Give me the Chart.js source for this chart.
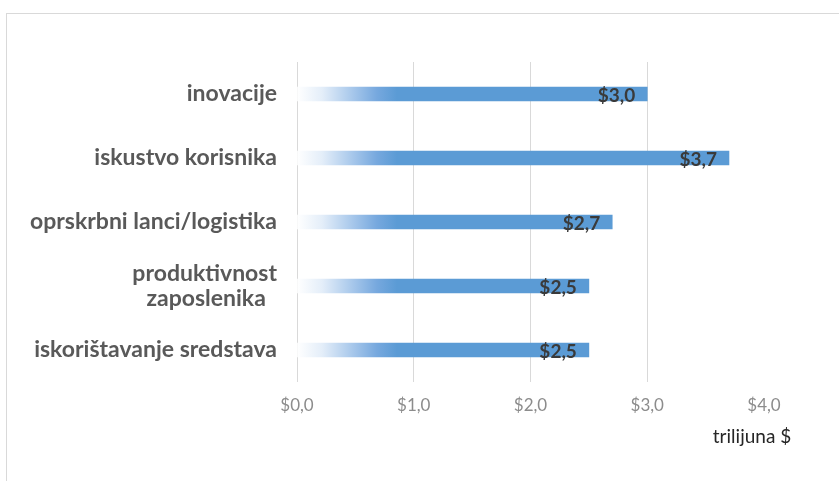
<!doctype html>
<html>

<head>
	<meta charset="utf-8">
	<title>Bar Chart</title>
	<script src="https://cdn.jsdelivr.net/npm/chart.js@4/dist/chart.umd.min.js"></script>
	<style>
		html, body {
			margin: 0;
			padding: 0;
			background: #fff;
		}
		#frame {
			position: absolute;
			left: 6px;
			top: 13px;
			width: 900px;
			height: 500px;
			border-top: 1px solid #d9d9d9;
			border-left: 1px solid #d9d9d9;
		}
		#wrap {
			position: absolute;
			left: 0;
			top: 0;
			width: 839px;
			height: 481px;
		}
	</style>
</head>

<body>
	<div id="frame"></div>
	<div id="wrap">
		<canvas id="canvas"></canvas>
	</div>
	<script>
		var CATEGORIES = [
			'inovacije',
			'iskustvo korisnika',
			'oprskrbni lanci/logistika',
			['produktivnost', 'zaposlenika  '],
			'iskorištavanje sredstava'
		];
		var VALUES = [3.0, 3.7, 2.7, 2.5, 2.5];
		var AXIS_UNIT = 'trilijuna $';

		function money(v) {
			return '$' + v.toFixed(1).replace('.', ',');
		}

		// bar value labels + unit caption under the axis
		var valueLabels = {
			id: 'valueLabels',
			afterDatasetsDraw: function(chart) {
				var ctx = chart.ctx;
				var meta = chart.getDatasetMeta(0);
				ctx.save();
				ctx.font = 'bold 19px Lato';
				ctx.fillStyle = '#3a3a3a';
				ctx.textAlign = 'right';
				ctx.textBaseline = 'middle';
				meta.data.forEach(function(bar, i) {
					ctx.fillText(money(VALUES[i]), bar.x - 12, bar.y + 2);
				});
				var xs = chart.scales.x;
				ctx.font = '19px Lato';
				ctx.fillStyle = '#262626';
				ctx.textAlign = 'center';
				ctx.fillText(AXIS_UNIT, xs.getPixelForValue(4) - 12, 437);
				ctx.restore();
			}
		};

		window.onload = function() {
			new Chart('canvas', {
				type: 'bar',
				data: {
					labels: CATEGORIES,
					datasets: [{
						data: VALUES,
						barThickness: 14,
						backgroundColor: function(context) {
							var chart = context.chart;
							if (!chart.chartArea) {
								return '#5b9bd5';
							}
							var x0 = chart.scales.x.getPixelForValue(0);
							var g = chart.ctx.createLinearGradient(x0, 0, x0 + 100, 0);
							g.addColorStop(0, '#ffffff');
							g.addColorStop(0.25, '#e4eef9');
							g.addColorStop(0.55, '#a8c8eb');
							g.addColorStop(0.8, '#76a8de');
							g.addColorStop(1, '#5b9bd5');
							return g;
						}
					}]
				},
				options: {
					indexAxis: 'y',
					responsive: true,
					maintainAspectRatio: false,
					animation: false,
					layout: {
						padding: { left: 0, right: 75, top: 62, bottom: 0 }
					},
					plugins: {
						legend: { display: false },
						tooltip: { enabled: false }
					},
					scales: {
						x: {
							min: 0,
							max: 4,
							ticks: {
								stepSize: 1,
								padding: 13,
								color: '#8c8c8c',
								font: { family: 'Lato', size: 17 },
								callback: function(v) { return money(v); }
							},
							grid: {
								drawTicks: false,
								color: function(c) {
									return c.tick && c.tick.value === 4 ? 'rgba(0,0,0,0)' : '#d9d9d9';
								}
							},
							border: { display: false },
							afterFit: function(s) { s.height = 99; }
						},
						y: {
							ticks: {
								padding: 20,
								color: '#595959',
								font: { family: 'Lato', size: 23, weight: 'bold', lineHeight: 1.1 }
							},
							grid: { display: false, drawTicks: false },
							border: { display: false },
							afterFit: function(s) { s.width = 297; }
						}
					}
				},
				plugins: [valueLabels]
			});
		};
	</script>
</body>

</html>
